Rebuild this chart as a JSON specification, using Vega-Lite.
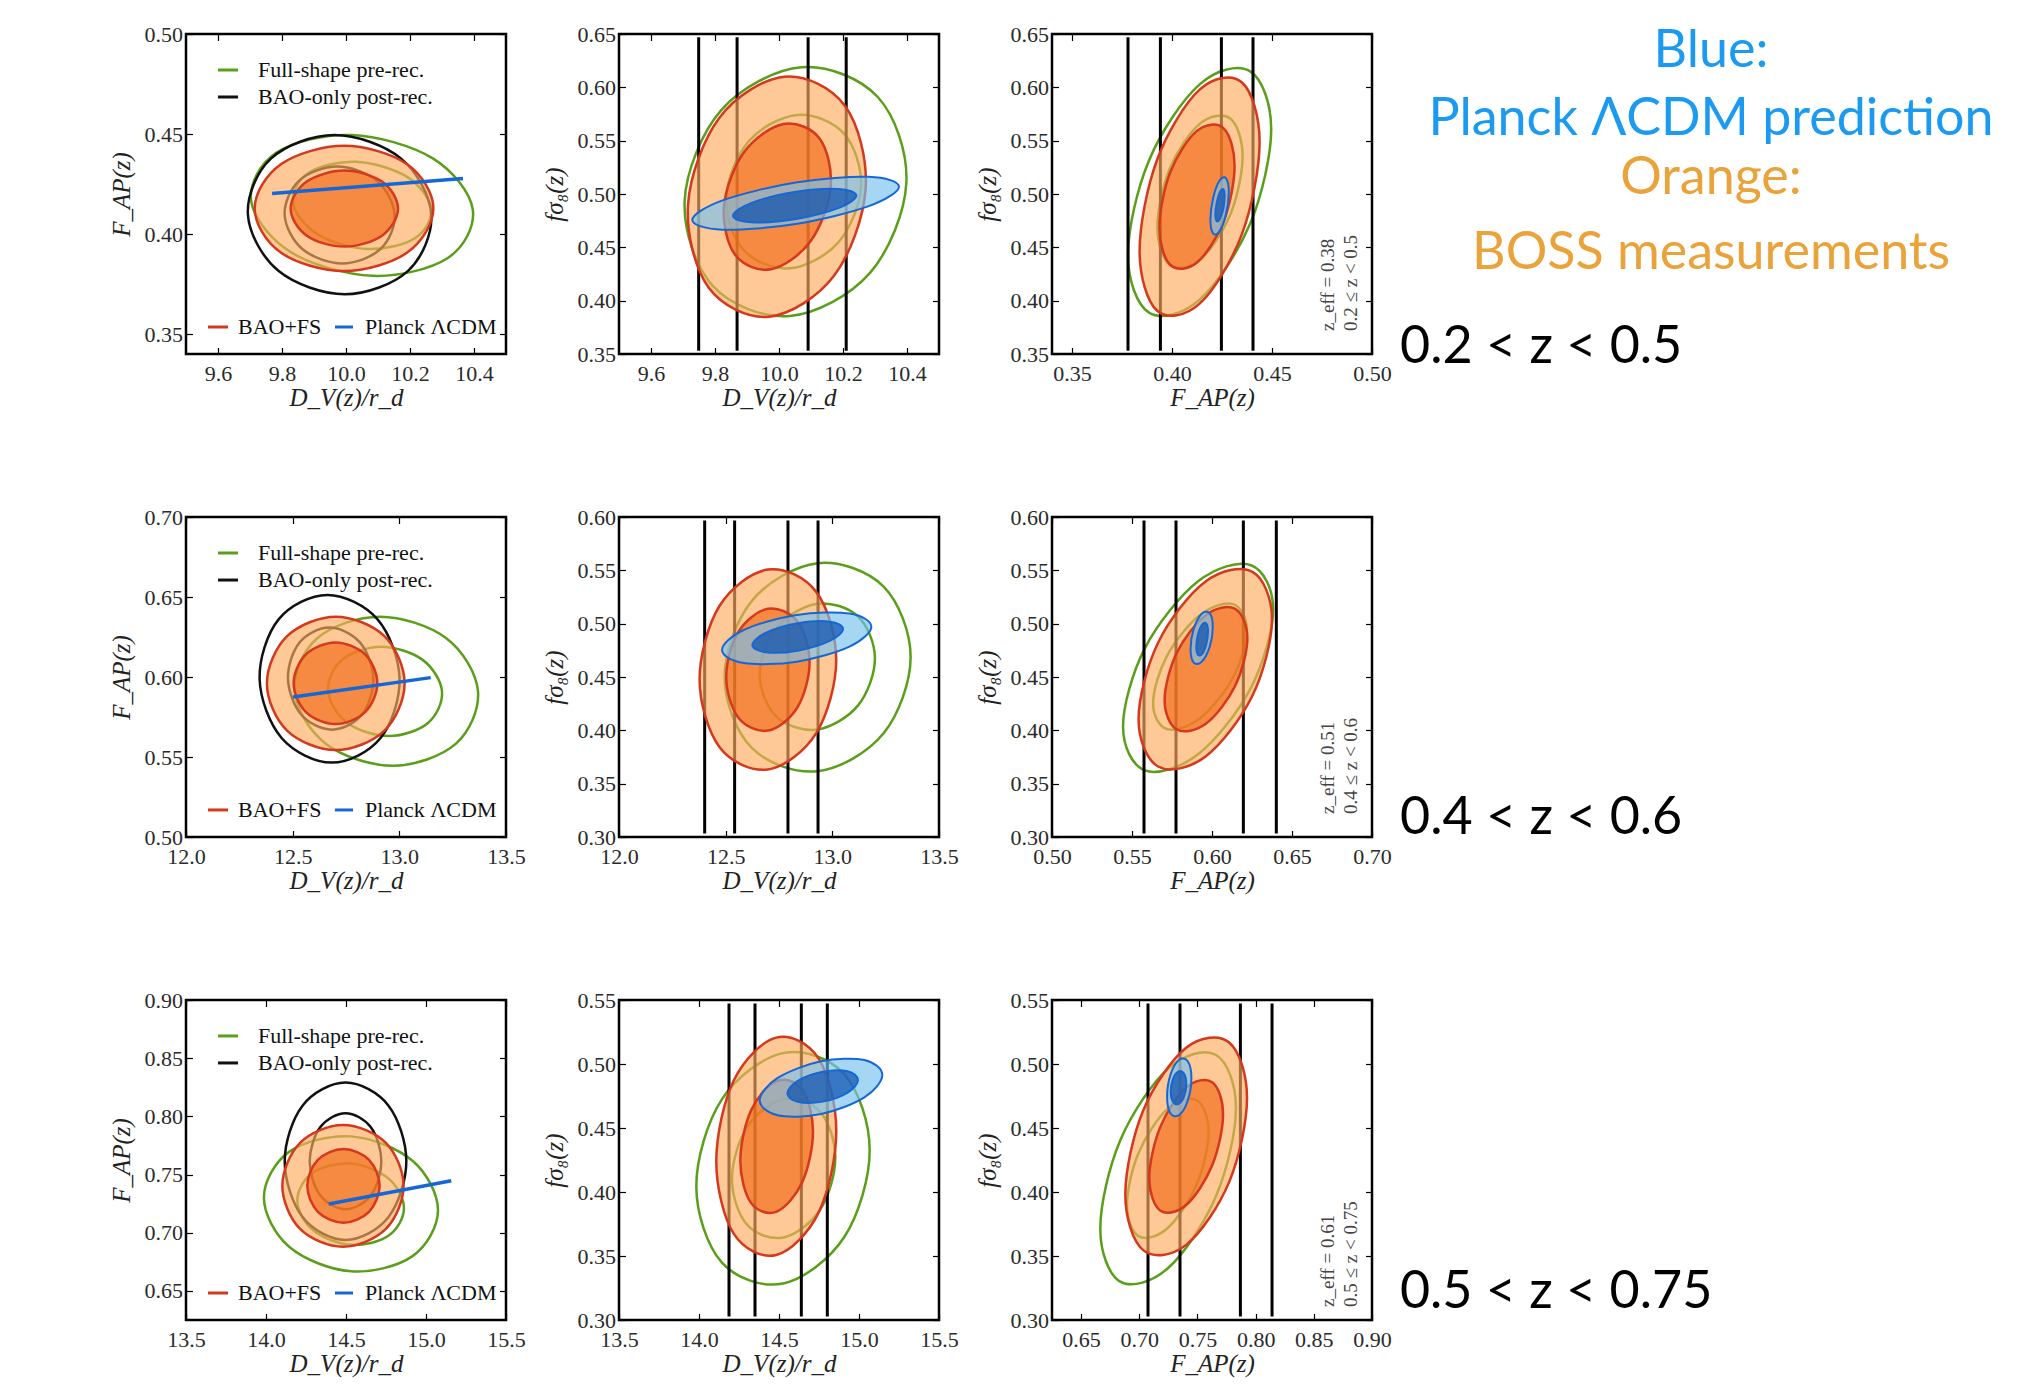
{
"$schema": "https://vega.github.io/schema/vega-lite/v6.json",
"background": "white",
"padding": {"left": 107, "top": 21, "right": 5, "bottom": 5},
"columns": 3,
"spacing": {"row": 163, "column": 113},
"bounds": "flush",
"config": {
  "view": {"stroke": "#000000", "strokeWidth": 2.5},
  "axis": {"domain": false, "grid": false, "ticks": true, "tickSize": -6.5, "tickColor": "#000000", "tickWidth": 1.2,
    "labelFont": "Liberation Serif", "labelFontSize": 22, "labelColor": "#2a2a2a",
    "labelFlush": false, "labelOverlap": false, "labelBound": false,
    "titleFont": "Liberation Serif", "titleFontSize": 25, "titleFontStyle": "italic", "titleFontWeight": "normal", "titleColor": "#222222"},
  "axisX": {"labelPadding": 16, "titlePadding": 1},
  "axisY": {"labelPadding": 10, "titlePadding": 10}
},
"datasets": {
"p11": [
{"k":"g","c":"g2","o":0,"x":10.396,"y":0.4123},{"k":"g","c":"g2","o":1,"x":10.2713,"y":0.4378},{"k":"g","c":"g2","o":2,"x":10.017,"y":0.4495},{"k":"g","c":"g2","o":3,"x":9.782,"y":0.4406},{"k":"g","c":"g2","o":4,"x":9.704,"y":0.4163},{"k":"g","c":"g2","o":5,"x":9.8287,"y":0.3908},{"k":"g","c":"g2","o":6,"x":10.083,"y":0.3791},{"k":"g","c":"g2","o":7,"x":10.318,"y":0.388},
{"k":"g","c":"g1","o":0,"x":10.2656,"y":0.413},{"k":"g","c":"g1","o":1,"x":10.1883,"y":0.4288},{"k":"g","c":"g1","o":2,"x":10.03,"y":0.4361},{"k":"g","c":"g1","o":3,"x":9.8834,"y":0.4306},{"k":"g","c":"g1","o":4,"x":9.8344,"y":0.4156},{"k":"g","c":"g1","o":5,"x":9.9117,"y":0.3998},{"k":"g","c":"g1","o":6,"x":10.07,"y":0.3925},{"k":"g","c":"g1","o":7,"x":10.2166,"y":0.398},
{"k":"k","c":"k2","o":0,"x":10.2665,"y":0.4097},{"k":"k","c":"k2","o":1,"x":10.1713,"y":0.4378},{"k":"k","c":"k2","o":2,"x":9.964,"y":0.4495},{"k":"k","c":"k2","o":3,"x":9.7661,"y":0.4378},{"k":"k","c":"k2","o":4,"x":9.6935,"y":0.4097},{"k":"k","c":"k2","o":5,"x":9.7887,"y":0.3816},{"k":"k","c":"k2","o":6,"x":9.996,"y":0.3699},{"k":"k","c":"k2","o":7,"x":10.1939,"y":0.3816},
{"k":"k","c":"k1","o":0,"x":10.1521,"y":0.4095},{"k":"k","c":"k1","o":1,"x":10.0961,"y":0.4266},{"k":"k","c":"k1","o":2,"x":9.9722,"y":0.4337},{"k":"k","c":"k1","o":3,"x":9.853,"y":0.4266},{"k":"k","c":"k1","o":4,"x":9.8083,"y":0.4095},{"k":"k","c":"k1","o":5,"x":9.8643,"y":0.3924},{"k":"k","c":"k1","o":6,"x":9.9882,"y":0.3853},{"k":"k","c":"k1","o":7,"x":10.1074,"y":0.3924},
{"k":"oL","c":"r2","o":0,"x":10.273,"y":0.4128},{"k":"oL","c":"r2","o":1,"x":10.1912,"y":0.4349},{"k":"oL","c":"r2","o":2,"x":9.9938,"y":0.4441},{"k":"oL","c":"r2","o":3,"x":9.7964,"y":0.4349},{"k":"oL","c":"r2","o":4,"x":9.7146,"y":0.4128},{"k":"oL","c":"r2","o":5,"x":9.7964,"y":0.3907},{"k":"oL","c":"r2","o":6,"x":9.9938,"y":0.3815},{"k":"oL","c":"r2","o":7,"x":10.1912,"y":0.3907},
{"k":"oD","c":"r1","o":0,"x":10.1625,"y":0.4127},{"k":"oD","c":"r1","o":1,"x":10.1134,"y":0.4261},{"k":"oD","c":"r1","o":2,"x":9.9948,"y":0.4317},{"k":"oD","c":"r1","o":3,"x":9.8762,"y":0.4261},{"k":"oD","c":"r1","o":4,"x":9.8271,"y":0.4127},{"k":"oD","c":"r1","o":5,"x":9.8762,"y":0.3993},{"k":"oD","c":"r1","o":6,"x":9.9948,"y":0.3937},{"k":"oD","c":"r1","o":7,"x":10.1134,"y":0.3993},
{"k":"bl","c":"b","o":0,"x":9.769,"y":0.4203},{"k":"bl","c":"b","o":1,"x":10.3656,"y":0.4277},
{"k":"lr","s":"Full-shape pre-rec.","x":9.6,"x2":9.6625,"y":0.482},{"k":"lr","s":"BAO-only post-rec.","x":9.6,"x2":9.6625,"y":0.4685},{"k":"lr","s":"BAO+FS","x":9.56875,"x2":9.63125,"y":0.3535},{"k":"lr","s":"Planck ΛCDM","x":9.9656,"x2":10.0219,"y":0.3535},
{"k":"lt","t":"Full-shape pre-rec.","x":9.725,"y":0.482},{"k":"lt","t":"BAO-only post-rec.","x":9.725,"y":0.4685},{"k":"lt","t":"BAO+FS","x":9.6625,"y":0.3535},{"k":"lt","t":"Planck ΛCDM","x":10.0594,"y":0.3535}
],
"p12": [
{"k":"g","c":"g2","o":0,"x":10.398,"y":0.5108},{"k":"g","c":"g2","o":1,"x":10.3094,"y":0.5907},{"k":"g","c":"g2","o":2,"x":10.0698,"y":0.6188},{"k":"g","c":"g2","o":3,"x":9.8195,"y":0.5786},{"k":"g","c":"g2","o":4,"x":9.7052,"y":0.4936},{"k":"g","c":"g2","o":5,"x":9.7938,"y":0.4137},{"k":"g","c":"g2","o":6,"x":10.0334,"y":0.3856},{"k":"g","c":"g2","o":7,"x":10.2837,"y":0.4258},
{"k":"g","c":"g1","o":0,"x":10.2562,"y":0.5072},{"k":"g","c":"g1","o":1,"x":10.2031,"y":0.5566},{"k":"g","c":"g1","o":2,"x":10.0578,"y":0.5741},{"k":"g","c":"g1","o":3,"x":9.9055,"y":0.5495},{"k":"g","c":"g1","o":4,"x":9.8354,"y":0.4972},{"k":"g","c":"g1","o":5,"x":9.8885,"y":0.4478},{"k":"g","c":"g1","o":6,"x":10.0338,"y":0.4303},{"k":"g","c":"g1","o":7,"x":10.1861,"y":0.4549},
{"k":"rule","x":9.749,"y":0.3531,"y2":0.6469},{"k":"rule","x":9.869,"y":0.3531,"y2":0.6469},{"k":"rule","x":10.091,"y":0.3531,"y2":0.6469},{"k":"rule","x":10.21,"y":0.3531,"y2":0.6469},
{"k":"oL","c":"r2","o":0,"x":10.2708,"y":0.5053},{"k":"oL","c":"r2","o":1,"x":10.2065,"y":0.5826},{"k":"oL","c":"r2","o":2,"x":10.0172,"y":0.61},{"k":"oL","c":"r2","o":3,"x":9.8139,"y":0.5715},{"k":"oL","c":"r2","o":4,"x":9.7156,"y":0.4897},{"k":"oL","c":"r2","o":5,"x":9.7799,"y":0.4124},{"k":"oL","c":"r2","o":6,"x":9.9692,"y":0.385},{"k":"oL","c":"r2","o":7,"x":10.1725,"y":0.4235},
{"k":"oD","c":"r1","o":0,"x":10.1615,"y":0.5065},{"k":"oD","c":"r1","o":1,"x":10.1268,"y":0.552},{"k":"oD","c":"r1","o":2,"x":10.0148,"y":0.5656},{"k":"oD","c":"r1","o":3,"x":9.8911,"y":0.5393},{"k":"oD","c":"r1","o":4,"x":9.8281,"y":0.4885},{"k":"oD","c":"r1","o":5,"x":9.8628,"y":0.443},{"k":"oD","c":"r1","o":6,"x":9.9748,"y":0.4294},{"k":"oD","c":"r1","o":7,"x":10.0985,"y":0.4557},
{"k":"bL","c":"b2","o":0,"x":10.3749,"y":0.5069},{"k":"bL","c":"b2","o":1,"x":10.2803,"y":0.5161},{"k":"bL","c":"b2","o":2,"x":10.052,"y":0.5107},{"k":"bL","c":"b2","o":3,"x":9.8237,"y":0.494},{"k":"bL","c":"b2","o":4,"x":9.7291,"y":0.4757},{"k":"bL","c":"b2","o":5,"x":9.8237,"y":0.4666},{"k":"bL","c":"b2","o":6,"x":10.052,"y":0.4719},{"k":"bL","c":"b2","o":7,"x":10.2803,"y":0.4886},
{"k":"bD","c":"b1","o":0,"x":10.2417,"y":0.4985},{"k":"bD","c":"b1","o":1,"x":10.1853,"y":0.5048},{"k":"bD","c":"b1","o":2,"x":10.049,"y":0.5019},{"k":"bD","c":"b1","o":3,"x":9.9127,"y":0.4915},{"k":"bD","c":"b1","o":4,"x":9.8563,"y":0.4797},{"k":"bD","c":"b1","o":5,"x":9.9127,"y":0.4734},{"k":"bD","c":"b1","o":6,"x":10.049,"y":0.4763},{"k":"bD","c":"b1","o":7,"x":10.1853,"y":0.4867}
],
"p13": [
{"k":"g","c":"g2","o":0,"x":0.4496,"y":0.5609},{"k":"g","c":"g2","o":1,"x":0.4391,"y":0.615},{"k":"g","c":"g2","o":2,"x":0.4138,"y":0.6028},{"k":"g","c":"g2","o":3,"x":0.3885,"y":0.5315},{"k":"g","c":"g2","o":4,"x":0.378,"y":0.4429},{"k":"g","c":"g2","o":5,"x":0.3885,"y":0.3888},{"k":"g","c":"g2","o":6,"x":0.4138,"y":0.401},{"k":"g","c":"g2","o":7,"x":0.4391,"y":0.4723},
{"k":"g","c":"g1","o":0,"x":0.4353,"y":0.5353},{"k":"g","c":"g1","o":1,"x":0.4291,"y":0.5707},{"k":"g","c":"g1","o":2,"x":0.414,"y":0.566},{"k":"g","c":"g1","o":3,"x":0.3989,"y":0.5239},{"k":"g","c":"g1","o":4,"x":0.3927,"y":0.4691},{"k":"g","c":"g1","o":5,"x":0.3989,"y":0.4337},{"k":"g","c":"g1","o":6,"x":0.414,"y":0.4384},{"k":"g","c":"g1","o":7,"x":0.4291,"y":0.4805},
{"k":"rule","x":0.378,"y":0.3531,"y2":0.6469},{"k":"rule","x":0.3942,"y":0.3531,"y2":0.6469},{"k":"rule","x":0.4247,"y":0.3531,"y2":0.6469},{"k":"rule","x":0.4405,"y":0.3531,"y2":0.6469},
{"k":"oL","c":"r2","o":0,"x":0.4438,"y":0.5485},{"k":"oL","c":"r2","o":1,"x":0.435,"y":0.6045},{"k":"oL","c":"r2","o":2,"x":0.4138,"y":0.5978},{"k":"oL","c":"r2","o":3,"x":0.3926,"y":0.5324},{"k":"oL","c":"r2","o":4,"x":0.3838,"y":0.4465},{"k":"oL","c":"r2","o":5,"x":0.3926,"y":0.3905},{"k":"oL","c":"r2","o":6,"x":0.4138,"y":0.3972},{"k":"oL","c":"r2","o":7,"x":0.435,"y":0.4626},
{"k":"oD","c":"r1","o":0,"x":0.4313,"y":0.5264},{"k":"oD","c":"r1","o":1,"x":0.4258,"y":0.5616},{"k":"oD","c":"r1","o":2,"x":0.4125,"y":0.5592},{"k":"oD","c":"r1","o":3,"x":0.3992,"y":0.5207},{"k":"oD","c":"r1","o":4,"x":0.3937,"y":0.4686},{"k":"oD","c":"r1","o":5,"x":0.3992,"y":0.4334},{"k":"oD","c":"r1","o":6,"x":0.4125,"y":0.4358},{"k":"oD","c":"r1","o":7,"x":0.4258,"y":0.4743},
{"k":"bL","c":"b2","o":0,"x":0.4284,"y":0.5016},{"k":"bL","c":"b2","o":1,"x":0.427,"y":0.5147},{"k":"bL","c":"b2","o":2,"x":0.4238,"y":0.5126},{"k":"bL","c":"b2","o":3,"x":0.4206,"y":0.4966},{"k":"bL","c":"b2","o":4,"x":0.4192,"y":0.476},{"k":"bL","c":"b2","o":5,"x":0.4206,"y":0.4629},{"k":"bL","c":"b2","o":6,"x":0.4238,"y":0.465},{"k":"bL","c":"b2","o":7,"x":0.427,"y":0.481},
{"k":"bD","c":"b1","o":0,"x":0.4263,"y":0.4982},{"k":"bD","c":"b1","o":1,"x":0.4257,"y":0.5045},{"k":"bD","c":"b1","o":2,"x":0.424,"y":0.5019},{"k":"bD","c":"b1","o":3,"x":0.4224,"y":0.4921},{"k":"bD","c":"b1","o":4,"x":0.4217,"y":0.4807},{"k":"bD","c":"b1","o":5,"x":0.4224,"y":0.4744},{"k":"bD","c":"b1","o":6,"x":0.424,"y":0.4769},{"k":"bD","c":"b1","o":7,"x":0.4257,"y":0.4867},
{"k":"rot","t":"z_eff = 0.38","x":0.478,"y":0.3716},{"k":"rot","t":"0.2 ≤ z < 0.5","x":0.4895,"y":0.3716},
{"k":"hb","t":"Blue:","x":0.6695,"y":0.6193},{"k":"hb","t":"Planck ΛCDM prediction","x":0.6695,"y":0.5553},
{"k":"ho","t":"Orange:","x":0.6695,"y":0.5001},{"k":"ho","t":"BOSS measurements","x":0.6695,"y":0.4299},
{"k":"row","t":"0.2 < z < 0.5","x":0.514,"y":0.3416}
],
"p21": [
{"k":"g","c":"g2","o":0,"x":13.3687,"y":0.5911},{"k":"g","c":"g2","o":1,"x":13.2216,"y":0.6241},{"k":"g","c":"g2","o":2,"x":12.909,"y":0.6377},{"k":"g","c":"g2","o":3,"x":12.6139,"y":0.6241},{"k":"g","c":"g2","o":4,"x":12.5093,"y":0.5911},{"k":"g","c":"g2","o":5,"x":12.6564,"y":0.5582},{"k":"g","c":"g2","o":6,"x":12.969,"y":0.5445},{"k":"g","c":"g2","o":7,"x":13.2641,"y":0.5582},
{"k":"g","c":"g1","o":0,"x":13.2,"y":0.591},{"k":"g","c":"g1","o":1,"x":13.1091,"y":0.6107},{"k":"g","c":"g1","o":2,"x":12.915,"y":0.6189},{"k":"g","c":"g1","o":3,"x":12.7315,"y":0.6107},{"k":"g","c":"g1","o":4,"x":12.666,"y":0.591},{"k":"g","c":"g1","o":5,"x":12.7569,"y":0.5713},{"k":"g","c":"g1","o":6,"x":12.951,"y":0.5631},{"k":"g","c":"g1","o":7,"x":13.1345,"y":0.5713},
{"k":"k","c":"k2","o":0,"x":13.001,"y":0.5989},{"k":"k","c":"k2","o":1,"x":12.8979,"y":0.636},{"k":"k","c":"k2","o":2,"x":12.663,"y":0.6513},{"k":"k","c":"k2","o":3,"x":12.434,"y":0.636},{"k":"k","c":"k2","o":4,"x":12.345,"y":0.5989},{"k":"k","c":"k2","o":5,"x":12.4481,"y":0.5619},{"k":"k","c":"k2","o":6,"x":12.683,"y":0.5465},{"k":"k","c":"k2","o":7,"x":12.912,"y":0.5619},
{"k":"k","c":"k1","o":0,"x":12.878,"y":0.599},{"k":"k","c":"k1","o":1,"x":12.8152,"y":0.6216},{"k":"k","c":"k1","o":2,"x":12.672,"y":0.6309},{"k":"k","c":"k1","o":3,"x":12.5323,"y":0.6216},{"k":"k","c":"k1","o":4,"x":12.478,"y":0.599},{"k":"k","c":"k1","o":5,"x":12.5408,"y":0.5764},{"k":"k","c":"k1","o":6,"x":12.684,"y":0.5671},{"k":"k","c":"k1","o":7,"x":12.8237,"y":0.5764},
{"k":"oL","c":"r2","o":0,"x":13.0247,"y":0.596},{"k":"oL","c":"r2","o":1,"x":12.9302,"y":0.6255},{"k":"oL","c":"r2","o":2,"x":12.702,"y":0.6377},{"k":"oL","c":"r2","o":3,"x":12.4738,"y":0.6255},{"k":"oL","c":"r2","o":4,"x":12.3793,"y":0.596},{"k":"oL","c":"r2","o":5,"x":12.4738,"y":0.5665},{"k":"oL","c":"r2","o":6,"x":12.702,"y":0.5543},{"k":"oL","c":"r2","o":7,"x":12.9302,"y":0.5665},
{"k":"oD","c":"r1","o":0,"x":12.8969,"y":0.5961},{"k":"oD","c":"r1","o":1,"x":12.8395,"y":0.6141},{"k":"oD","c":"r1","o":2,"x":12.7008,"y":0.6216},{"k":"oD","c":"r1","o":3,"x":12.5621,"y":0.6141},{"k":"oD","c":"r1","o":4,"x":12.5047,"y":0.5961},{"k":"oD","c":"r1","o":5,"x":12.5621,"y":0.5781},{"k":"oD","c":"r1","o":6,"x":12.7008,"y":0.5706},{"k":"oD","c":"r1","o":7,"x":12.8395,"y":0.5781},
{"k":"bl","c":"b","o":0,"x":12.5016,"y":0.5875},{"k":"bl","c":"b","o":1,"x":13.147,"y":0.5996},
{"k":"lr","s":"Full-shape pre-rec.","x":12.15,"x2":12.24375,"y":0.6775},{"k":"lr","s":"BAO-only post-rec.","x":12.15,"x2":12.24375,"y":0.6606},{"k":"lr","s":"BAO+FS","x":12.103,"x2":12.197,"y":0.5169},{"k":"lr","s":"Planck ΛCDM","x":12.698,"x2":12.783,"y":0.5169},
{"k":"lt","t":"Full-shape pre-rec.","x":12.3375,"y":0.6775},{"k":"lt","t":"BAO-only post-rec.","x":12.3375,"y":0.6606},{"k":"lt","t":"BAO+FS","x":12.244,"y":0.5169},{"k":"lt","t":"Planck ΛCDM","x":12.839,"y":0.5169}
],
"p22": [
{"k":"g","c":"g2","o":0,"x":13.367,"y":0.4687},{"k":"g","c":"g2","o":1,"x":13.2393,"y":0.5349},{"k":"g","c":"g2","o":2,"x":12.931,"y":0.5567},{"k":"g","c":"g2","o":3,"x":12.6227,"y":0.5214},{"k":"g","c":"g2","o":4,"x":12.495,"y":0.4497},{"k":"g","c":"g2","o":5,"x":12.6227,"y":0.3835},{"k":"g","c":"g2","o":6,"x":12.931,"y":0.3617},{"k":"g","c":"g2","o":7,"x":13.2393,"y":0.397},
{"k":"g","c":"g1","o":0,"x":13.1997,"y":0.4673},{"k":"g","c":"g1","o":1,"x":13.1206,"y":0.5067},{"k":"g","c":"g1","o":2,"x":12.9297,"y":0.5186},{"k":"g","c":"g1","o":3,"x":12.7388,"y":0.496},{"k":"g","c":"g1","o":4,"x":12.6597,"y":0.4521},{"k":"g","c":"g1","o":5,"x":12.7388,"y":0.4127},{"k":"g","c":"g1","o":6,"x":12.9297,"y":0.4008},{"k":"g","c":"g1","o":7,"x":13.1206,"y":0.4234},
{"k":"rule","x":12.4016,"y":0.3033,"y2":0.5967},{"k":"rule","x":12.542,"y":0.3033,"y2":0.5967},{"k":"rule","x":12.792,"y":0.3033,"y2":0.5967},{"k":"rule","x":12.933,"y":0.3033,"y2":0.5967},
{"k":"oL","c":"r2","o":0,"x":13.0183,"y":0.4662},{"k":"oL","c":"r2","o":1,"x":12.9245,"y":0.5298},{"k":"oL","c":"r2","o":2,"x":12.698,"y":0.5507},{"k":"oL","c":"r2","o":3,"x":12.4715,"y":0.5168},{"k":"oL","c":"r2","o":4,"x":12.3777,"y":0.4478},{"k":"oL","c":"r2","o":5,"x":12.4715,"y":0.3842},{"k":"oL","c":"r2","o":6,"x":12.698,"y":0.3633},{"k":"oL","c":"r2","o":7,"x":12.9245,"y":0.3973},
{"k":"oD","c":"r1","o":0,"x":12.8933,"y":0.4638},{"k":"oD","c":"r1","o":1,"x":12.8361,"y":0.5022},{"k":"oD","c":"r1","o":2,"x":12.698,"y":0.514},{"k":"oD","c":"r1","o":3,"x":12.5599,"y":0.4924},{"k":"oD","c":"r1","o":4,"x":12.5027,"y":0.45},{"k":"oD","c":"r1","o":5,"x":12.5599,"y":0.4117},{"k":"oD","c":"r1","o":6,"x":12.698,"y":0.3998},{"k":"oD","c":"r1","o":7,"x":12.8361,"y":0.4214},
{"k":"bL","c":"b2","o":0,"x":13.183,"y":0.4972},{"k":"bL","c":"b2","o":1,"x":13.0805,"y":0.5095},{"k":"bL","c":"b2","o":2,"x":12.833,"y":0.5082},{"k":"bL","c":"b2","o":3,"x":12.5855,"y":0.4941},{"k":"bL","c":"b2","o":4,"x":12.483,"y":0.4754},{"k":"bL","c":"b2","o":5,"x":12.5855,"y":0.4631},{"k":"bL","c":"b2","o":6,"x":12.833,"y":0.4644},{"k":"bL","c":"b2","o":7,"x":13.0805,"y":0.4785},
{"k":"bD","c":"b1","o":0,"x":13.05,"y":0.495},{"k":"bD","c":"b1","o":1,"x":12.9878,"y":0.5019},{"k":"bD","c":"b1","o":2,"x":12.8375,"y":0.5003},{"k":"bD","c":"b1","o":3,"x":12.6872,"y":0.4913},{"k":"bD","c":"b1","o":4,"x":12.625,"y":0.48},{"k":"bD","c":"b1","o":5,"x":12.6872,"y":0.4732},{"k":"bD","c":"b1","o":6,"x":12.8375,"y":0.4747},{"k":"bD","c":"b1","o":7,"x":12.9878,"y":0.4838}
],
"p23": [
{"k":"g","c":"g2","o":0,"x":0.6382,"y":0.5136},{"k":"g","c":"g2","o":1,"x":0.6244,"y":0.5548},{"k":"g","c":"g2","o":2,"x":0.5913,"y":0.5397},{"k":"g","c":"g2","o":3,"x":0.5581,"y":0.4771},{"k":"g","c":"g2","o":4,"x":0.5444,"y":0.4036},{"k":"g","c":"g2","o":5,"x":0.5581,"y":0.3624},{"k":"g","c":"g2","o":6,"x":0.5913,"y":0.3775},{"k":"g","c":"g2","o":7,"x":0.6244,"y":0.4401},
{"k":"g","c":"g1","o":0,"x":0.6218,"y":0.4941},{"k":"g","c":"g1","o":1,"x":0.6132,"y":0.5183},{"k":"g","c":"g1","o":2,"x":0.5925,"y":0.5081},{"k":"g","c":"g1","o":3,"x":0.5718,"y":0.4696},{"k":"g","c":"g1","o":4,"x":0.5632,"y":0.4253},{"k":"g","c":"g1","o":5,"x":0.5718,"y":0.4012},{"k":"g","c":"g1","o":6,"x":0.5925,"y":0.4113},{"k":"g","c":"g1","o":7,"x":0.6132,"y":0.4498},
{"k":"rule","x":0.5575,"y":0.3033,"y2":0.5967},{"k":"rule","x":0.5775,"y":0.3033,"y2":0.5967},{"k":"rule","x":0.6196,"y":0.3033,"y2":0.5967},{"k":"rule","x":0.6402,"y":0.3033,"y2":0.5967},
{"k":"oL","c":"r2","o":0,"x":0.6375,"y":0.5043},{"k":"oL","c":"r2","o":1,"x":0.6253,"y":0.5485},{"k":"oL","c":"r2","o":2,"x":0.5958,"y":0.5393},{"k":"oL","c":"r2","o":3,"x":0.5663,"y":0.4821},{"k":"oL","c":"r2","o":4,"x":0.5541,"y":0.4103},{"k":"oL","c":"r2","o":5,"x":0.5663,"y":0.3661},{"k":"oL","c":"r2","o":6,"x":0.5958,"y":0.3753},{"k":"oL","c":"r2","o":7,"x":0.6253,"y":0.4326},
{"k":"oD","c":"r1","o":0,"x":0.6221,"y":0.4863},{"k":"oD","c":"r1","o":1,"x":0.6145,"y":0.5138},{"k":"oD","c":"r1","o":2,"x":0.5963,"y":0.5082},{"k":"oD","c":"r1","o":3,"x":0.578,"y":0.4728},{"k":"oD","c":"r1","o":4,"x":0.5704,"y":0.4283},{"k":"oD","c":"r1","o":5,"x":0.578,"y":0.4008},{"k":"oD","c":"r1","o":6,"x":0.5963,"y":0.4064},{"k":"oD","c":"r1","o":7,"x":0.6145,"y":0.4418},
{"k":"bL","c":"b2","o":0,"x":0.6005,"y":0.4969},{"k":"bL","c":"b2","o":1,"x":0.5985,"y":0.5098},{"k":"bL","c":"b2","o":2,"x":0.5935,"y":0.509},{"k":"bL","c":"b2","o":3,"x":0.5886,"y":0.4952},{"k":"bL","c":"b2","o":4,"x":0.5866,"y":0.4763},{"k":"bL","c":"b2","o":5,"x":0.5886,"y":0.4634},{"k":"bL","c":"b2","o":6,"x":0.5935,"y":0.4642},{"k":"bL","c":"b2","o":7,"x":0.5985,"y":0.478},
{"k":"bD","c":"b1","o":0,"x":0.5975,"y":0.4926},{"k":"bD","c":"b1","o":1,"x":0.5964,"y":0.5002},{"k":"bD","c":"b1","o":2,"x":0.5939,"y":0.4993},{"k":"bD","c":"b1","o":3,"x":0.5913,"y":0.4902},{"k":"bD","c":"b1","o":4,"x":0.5902,"y":0.4784},{"k":"bD","c":"b1","o":5,"x":0.5913,"y":0.4708},{"k":"bD","c":"b1","o":6,"x":0.5939,"y":0.4717},{"k":"bD","c":"b1","o":7,"x":0.5964,"y":0.4808},
{"k":"rot","t":"z_eff = 0.51","x":0.6725,"y":0.3216},{"k":"rot","t":"0.4 ≤ z < 0.6","x":0.6869,"y":0.3216},
{"k":"row","t":"0.4 < z < 0.6","x":0.7175,"y":0.3028}
],
"p31": [
{"k":"g","c":"g2","o":0,"x":15.075,"y":0.7193},{"k":"g","c":"g2","o":1,"x":14.9157,"y":0.7619},{"k":"g","c":"g2","o":2,"x":14.531,"y":0.7828},{"k":"g","c":"g2","o":3,"x":14.1463,"y":0.7697},{"k":"g","c":"g2","o":4,"x":13.987,"y":0.7303},{"k":"g","c":"g2","o":5,"x":14.1463,"y":0.6877},{"k":"g","c":"g2","o":6,"x":14.531,"y":0.6668},{"k":"g","c":"g2","o":7,"x":14.9157,"y":0.6799},
{"k":"g","c":"g1","o":0,"x":14.8623,"y":0.721},{"k":"g","c":"g1","o":1,"x":14.7647,"y":0.7467},{"k":"g","c":"g1","o":2,"x":14.529,"y":0.7594},{"k":"g","c":"g1","o":3,"x":14.2933,"y":0.7517},{"k":"g","c":"g1","o":4,"x":14.1957,"y":0.728},{"k":"g","c":"g1","o":5,"x":14.2933,"y":0.7023},{"k":"g","c":"g1","o":6,"x":14.529,"y":0.6896},{"k":"g","c":"g1","o":7,"x":14.7647,"y":0.6974},
{"k":"k","c":"k2","o":0,"x":14.877,"y":0.7614},{"k":"k","c":"k2","o":1,"x":14.7657,"y":0.8092},{"k":"k","c":"k2","o":2,"x":14.497,"y":0.829},{"k":"k","c":"k2","o":3,"x":14.2283,"y":0.8092},{"k":"k","c":"k2","o":4,"x":14.117,"y":0.7614},{"k":"k","c":"k2","o":5,"x":14.2283,"y":0.7136},{"k":"k","c":"k2","o":6,"x":14.497,"y":0.6938},{"k":"k","c":"k2","o":7,"x":14.7657,"y":0.7136},
{"k":"k","c":"k1","o":0,"x":14.721,"y":0.7614},{"k":"k","c":"k1","o":1,"x":14.6554,"y":0.7906},{"k":"k","c":"k1","o":2,"x":14.497,"y":0.8027},{"k":"k","c":"k1","o":3,"x":14.3386,"y":0.7906},{"k":"k","c":"k1","o":4,"x":14.273,"y":0.7614},{"k":"k","c":"k1","o":5,"x":14.3386,"y":0.7322},{"k":"k","c":"k1","o":6,"x":14.497,"y":0.7202},{"k":"k","c":"k1","o":7,"x":14.6554,"y":0.7322},
{"k":"oL","c":"r2","o":0,"x":14.86,"y":0.7403},{"k":"oL","c":"r2","o":1,"x":14.749,"y":0.7773},{"k":"oL","c":"r2","o":2,"x":14.481,"y":0.7926},{"k":"oL","c":"r2","o":3,"x":14.213,"y":0.7773},{"k":"oL","c":"r2","o":4,"x":14.102,"y":0.7403},{"k":"oL","c":"r2","o":5,"x":14.213,"y":0.7033},{"k":"oL","c":"r2","o":6,"x":14.481,"y":0.688},{"k":"oL","c":"r2","o":7,"x":14.749,"y":0.7033},
{"k":"oD","c":"r1","o":0,"x":14.71,"y":0.7403},{"k":"oD","c":"r1","o":1,"x":14.6438,"y":0.7627},{"k":"oD","c":"r1","o":2,"x":14.484,"y":0.772},{"k":"oD","c":"r1","o":3,"x":14.3242,"y":0.7627},{"k":"oD","c":"r1","o":4,"x":14.258,"y":0.7403},{"k":"oD","c":"r1","o":5,"x":14.3242,"y":0.7179},{"k":"oD","c":"r1","o":6,"x":14.484,"y":0.7086},{"k":"oD","c":"r1","o":7,"x":14.6438,"y":0.7179},
{"k":"bl","c":"b","o":0,"x":14.392,"y":0.7247},{"k":"bl","c":"b","o":1,"x":15.158,"y":0.7447},
{"k":"lr","s":"Full-shape pre-rec.","x":13.7,"x2":13.825,"y":0.8691},{"k":"lr","s":"BAO-only post-rec.","x":13.7,"x2":13.825,"y":0.8459},{"k":"lr","s":"BAO+FS","x":13.6375,"x2":13.7625,"y":0.6482},{"k":"lr","s":"Planck ΛCDM","x":14.4313,"x2":14.5438,"y":0.6482},
{"k":"lt","t":"Full-shape pre-rec.","x":13.95,"y":0.8691},{"k":"lt","t":"BAO-only post-rec.","x":13.95,"y":0.8459},{"k":"lt","t":"BAO+FS","x":13.825,"y":0.6482},{"k":"lt","t":"Planck ΛCDM","x":14.6188,"y":0.6482}
],
"p32": [
{"k":"g","c":"g2","o":0,"x":15.0667,"y":0.4325},{"k":"g","c":"g2","o":1,"x":14.908,"y":0.492},{"k":"g","c":"g2","o":2,"x":14.525,"y":0.5085},{"k":"g","c":"g2","o":3,"x":14.142,"y":0.4722},{"k":"g","c":"g2","o":4,"x":13.9833,"y":0.4045},{"k":"g","c":"g2","o":5,"x":14.142,"y":0.345},{"k":"g","c":"g2","o":6,"x":14.525,"y":0.3285},{"k":"g","c":"g2","o":7,"x":14.908,"y":0.3648},
{"k":"g","c":"g1","o":0,"x":14.852,"y":0.4269},{"k":"g","c":"g1","o":1,"x":14.7574,"y":0.4626},{"k":"g","c":"g1","o":2,"x":14.529,"y":0.4725},{"k":"g","c":"g1","o":3,"x":14.3006,"y":0.4507},{"k":"g","c":"g1","o":4,"x":14.206,"y":0.4101},{"k":"g","c":"g1","o":5,"x":14.3006,"y":0.3744},{"k":"g","c":"g1","o":6,"x":14.529,"y":0.3645},{"k":"g","c":"g1","o":7,"x":14.7574,"y":0.3863},
{"k":"rule","x":14.1875,"y":0.3027,"y2":0.5473},{"k":"rule","x":14.35,"y":0.3027,"y2":0.5473},{"k":"rule","x":14.6396,"y":0.3027,"y2":0.5473},{"k":"rule","x":14.802,"y":0.3027,"y2":0.5473},
{"k":"oL","c":"r2","o":0,"x":14.858,"y":0.4476},{"k":"oL","c":"r2","o":1,"x":14.7482,"y":0.5042},{"k":"oL","c":"r2","o":2,"x":14.483,"y":0.5206},{"k":"oL","c":"r2","o":3,"x":14.2178,"y":0.4873},{"k":"oL","c":"r2","o":4,"x":14.108,"y":0.4238},{"k":"oL","c":"r2","o":5,"x":14.2178,"y":0.3673},{"k":"oL","c":"r2","o":6,"x":14.483,"y":0.3508},{"k":"oL","c":"r2","o":7,"x":14.7482,"y":0.3841},
{"k":"oD","c":"r1","o":0,"x":14.7124,"y":0.4472},{"k":"oD","c":"r1","o":1,"x":14.6459,"y":0.4799},{"k":"oD","c":"r1","o":2,"x":14.4854,"y":0.4867},{"k":"oD","c":"r1","o":3,"x":14.3249,"y":0.4636},{"k":"oD","c":"r1","o":4,"x":14.2584,"y":0.4242},{"k":"oD","c":"r1","o":5,"x":14.3249,"y":0.3915},{"k":"oD","c":"r1","o":6,"x":14.4854,"y":0.3847},{"k":"oD","c":"r1","o":7,"x":14.6459,"y":0.4078},
{"k":"bL","c":"b2","o":0,"x":15.1458,"y":0.4914},{"k":"bL","c":"b2","o":1,"x":15.0335,"y":0.5031},{"k":"bL","c":"b2","o":2,"x":14.7625,"y":0.5021},{"k":"bL","c":"b2","o":3,"x":14.4915,"y":0.4891},{"k":"bL","c":"b2","o":4,"x":14.3792,"y":0.4716},{"k":"bL","c":"b2","o":5,"x":14.4915,"y":0.4599},{"k":"bL","c":"b2","o":6,"x":14.7625,"y":0.4609},{"k":"bL","c":"b2","o":7,"x":15.0335,"y":0.4739},
{"k":"bD","c":"b1","o":0,"x":14.9938,"y":0.4875},{"k":"bD","c":"b1","o":1,"x":14.9291,"y":0.4943},{"k":"bD","c":"b1","o":2,"x":14.773,"y":0.494},{"k":"bD","c":"b1","o":3,"x":14.6169,"y":0.4869},{"k":"bD","c":"b1","o":4,"x":14.5522,"y":0.4771},{"k":"bD","c":"b1","o":5,"x":14.6169,"y":0.4704},{"k":"bD","c":"b1","o":6,"x":14.773,"y":0.4706},{"k":"bD","c":"b1","o":7,"x":14.9291,"y":0.4777}
],
"p33": [
{"k":"g","c":"g2","o":0,"x":0.7831,"y":0.4657},{"k":"g","c":"g2","o":1,"x":0.766,"y":0.507},{"k":"g","c":"g2","o":2,"x":0.7248,"y":0.4964},{"k":"g","c":"g2","o":3,"x":0.6836,"y":0.4402},{"k":"g","c":"g2","o":4,"x":0.6665,"y":0.3713},{"k":"g","c":"g2","o":5,"x":0.6836,"y":0.33},{"k":"g","c":"g2","o":6,"x":0.7248,"y":0.3406},{"k":"g","c":"g2","o":7,"x":0.766,"y":0.3968},
{"k":"g","c":"g1","o":0,"x":0.7596,"y":0.4471},{"k":"g","c":"g1","o":1,"x":0.7493,"y":0.4717},{"k":"g","c":"g1","o":2,"x":0.7245,"y":0.4651},{"k":"g","c":"g1","o":3,"x":0.6997,"y":0.4312},{"k":"g","c":"g1","o":4,"x":0.6894,"y":0.3899},{"k":"g","c":"g1","o":5,"x":0.6997,"y":0.3653},{"k":"g","c":"g1","o":6,"x":0.7245,"y":0.3719},{"k":"g","c":"g1","o":7,"x":0.7493,"y":0.4058},
{"k":"rule","x":0.7075,"y":0.3027,"y2":0.5473},{"k":"rule","x":0.735,"y":0.3027,"y2":0.5473},{"k":"rule","x":0.7869,"y":0.3027,"y2":0.5473},{"k":"rule","x":0.8141,"y":0.3027,"y2":0.5473},
{"k":"oL","c":"r2","o":0,"x":0.7926,"y":0.4734},{"k":"oL","c":"r2","o":1,"x":0.7773,"y":0.5168},{"k":"oL","c":"r2","o":2,"x":0.7403,"y":0.5127},{"k":"oL","c":"r2","o":3,"x":0.7033,"y":0.4635},{"k":"oL","c":"r2","o":4,"x":0.688,"y":0.398},{"k":"oL","c":"r2","o":5,"x":0.7033,"y":0.3546},{"k":"oL","c":"r2","o":6,"x":0.7403,"y":0.3587},{"k":"oL","c":"r2","o":7,"x":0.7773,"y":0.4079},
{"k":"oD","c":"r1","o":0,"x":0.772,"y":0.4607},{"k":"oD","c":"r1","o":1,"x":0.7627,"y":0.4858},{"k":"oD","c":"r1","o":2,"x":0.7403,"y":0.4816},{"k":"oD","c":"r1","o":3,"x":0.7179,"y":0.4505},{"k":"oD","c":"r1","o":4,"x":0.7086,"y":0.4107},{"k":"oD","c":"r1","o":5,"x":0.7179,"y":0.3856},{"k":"oD","c":"r1","o":6,"x":0.7403,"y":0.3898},{"k":"oD","c":"r1","o":7,"x":0.7627,"y":0.4209},
{"k":"bL","c":"b2","o":0,"x":0.7448,"y":0.4889},{"k":"bL","c":"b2","o":1,"x":0.7417,"y":0.5021},{"k":"bL","c":"b2","o":2,"x":0.7343,"y":0.5033},{"k":"bL","c":"b2","o":3,"x":0.7269,"y":0.4919},{"k":"bL","c":"b2","o":4,"x":0.7239,"y":0.4745},{"k":"bL","c":"b2","o":5,"x":0.7269,"y":0.4613},{"k":"bL","c":"b2","o":6,"x":0.7343,"y":0.4601},{"k":"bL","c":"b2","o":7,"x":0.7417,"y":0.4715},
{"k":"bD","c":"b1","o":0,"x":0.7404,"y":0.4844},{"k":"bD","c":"b1","o":1,"x":0.7384,"y":0.4925},{"k":"bD","c":"b1","o":2,"x":0.7337,"y":0.4942},{"k":"bD","c":"b1","o":3,"x":0.729,"y":0.4884},{"k":"bD","c":"b1","o":4,"x":0.727,"y":0.4786},{"k":"bD","c":"b1","o":5,"x":0.729,"y":0.4705},{"k":"bD","c":"b1","o":6,"x":0.7337,"y":0.4688},{"k":"bD","c":"b1","o":7,"x":0.7384,"y":0.4746},
{"k":"rot","t":"z_eff = 0.61","x":0.8622,"y":0.3102},{"k":"rot","t":"0.5 ≤ z < 0.75","x":0.882,"y":0.3102},
{"k":"row","t":"0.5 < z < 0.75","x":0.924,"y":0.3094}
]
},
"concat": [
{
 "width": 320, "height": 320, "data": {"name": "p11"},
 "encoding": {"x": {"field": "x", "type": "quantitative", "scale": {"domain": [9.5, 10.5], "nice": false, "zero": false}, "axis": null},
              "y": {"field": "y", "type": "quantitative", "scale": {"domain": [0.34, 0.5], "nice": false, "zero": false}, "axis": null}},
 "layer": [
  {"transform": [{"filter": "datum.k=='g'"}], "mark": {"type": "line", "interpolate": "cardinal-closed", "stroke": "#5a9e1a", "strokeWidth": 2.5},
   "encoding": {"x": {"field": "x", "type": "quantitative", "scale": {"domain": [9.5, 10.5], "nice": false, "zero": false}, "axis": {"orient": "bottom", "values": [9.6, 9.8, 10, 10.2, 10.4], "format": ".1f", "title": "D_V(z)/r_d"}},
                "y": {"field": "y", "type": "quantitative", "scale": {"domain": [0.34, 0.5], "nice": false, "zero": false}, "axis": {"orient": "left", "values": [0.35, 0.4, 0.45, 0.5], "format": ".2f", "title": "F_AP(z)"}},
                "detail": {"field": "c"}, "order": {"field": "o", "type": "quantitative"}}},
  {"transform": [{"filter": "datum.k=='k'"}], "mark": {"type": "line", "interpolate": "cardinal-closed", "stroke": "#111111", "strokeWidth": 2.5},
   "encoding": {"detail": {"field": "c"}, "order": {"field": "o", "type": "quantitative"}}},
  {"transform": [{"filter": "datum.k=='oL'"}], "mark": {"type": "line", "interpolate": "cardinal-closed", "fill": "#fdac60", "fillOpacity": 0.65, "stroke": "#d5381c", "strokeWidth": 2.5},
   "encoding": {"x": {"field": "x", "type": "quantitative", "scale": {"domain": [9.5, 10.5], "nice": false, "zero": false}, "axis": {"orient": "top", "values": [9.6, 9.8, 10, 10.2, 10.4], "labels": false, "title": null}},
                "y": {"field": "y", "type": "quantitative", "scale": {"domain": [0.34, 0.5], "nice": false, "zero": false}, "axis": {"orient": "right", "values": [0.35, 0.4, 0.45, 0.5], "labels": false, "title": null}},
                "detail": {"field": "c"}, "order": {"field": "o", "type": "quantitative"}}},
  {"transform": [{"filter": "datum.k=='oD'"}], "mark": {"type": "line", "interpolate": "cardinal-closed", "fill": "#f26814", "fillOpacity": 0.65, "stroke": "#d5381c", "strokeWidth": 2.5},
   "encoding": {"detail": {"field": "c"}, "order": {"field": "o", "type": "quantitative"}}},
  {"transform": [{"filter": "datum.k=='bl'"}], "mark": {"type": "line", "stroke": "#1667d6", "strokeWidth": 3.5},
   "encoding": {"order": {"field": "o", "type": "quantitative"}}},
  {"transform": [{"filter": "datum.k=='lr'"}], "mark": {"type": "rule", "strokeWidth": 3},
   "encoding": {"x2": {"field": "x2"}, "color": {"field": "s", "type": "nominal", "scale": {"domain": ["Full-shape pre-rec.", "BAO-only post-rec.", "BAO+FS", "Planck ΛCDM"], "range": ["#5a9e1a", "#111111", "#d5381c", "#1667d6"]}, "legend": null}}},
  {"transform": [{"filter": "datum.k=='lt'"}], "mark": {"type": "text", "font": "Liberation Serif", "fontSize": 22, "align": "left", "baseline": "middle", "color": "#111111"},
   "encoding": {"text": {"field": "t"}}}
 ]
},
{
 "width": 320, "height": 320, "data": {"name": "p12"},
 "encoding": {"x": {"field": "x", "type": "quantitative", "scale": {"domain": [9.5, 10.5], "nice": false, "zero": false}, "axis": null},
              "y": {"field": "y", "type": "quantitative", "scale": {"domain": [0.35, 0.65], "nice": false, "zero": false}, "axis": null}},
 "layer": [
  {"transform": [{"filter": "datum.k=='g'"}], "mark": {"type": "line", "interpolate": "cardinal-closed", "stroke": "#5a9e1a", "strokeWidth": 2.5},
   "encoding": {"x": {"field": "x", "type": "quantitative", "scale": {"domain": [9.5, 10.5], "nice": false, "zero": false}, "axis": {"orient": "bottom", "values": [9.6, 9.8, 10, 10.2, 10.4], "format": ".1f", "title": "D_V(z)/r_d"}},
                "y": {"field": "y", "type": "quantitative", "scale": {"domain": [0.35, 0.65], "nice": false, "zero": false}, "axis": {"orient": "left", "values": [0.35, 0.4, 0.45, 0.5, 0.55, 0.6, 0.65], "format": ".2f", "title": "fσ₈(z)"}},
                "detail": {"field": "c"}, "order": {"field": "o", "type": "quantitative"}}},
  {"transform": [{"filter": "datum.k=='rule'"}], "mark": {"type": "rule", "stroke": "#000000", "strokeWidth": 3},
   "encoding": {"y2": {"field": "y2"}}},
  {"transform": [{"filter": "datum.k=='oL'"}], "mark": {"type": "line", "interpolate": "cardinal-closed", "fill": "#fdac60", "fillOpacity": 0.65, "stroke": "#d5381c", "strokeWidth": 2.5},
   "encoding": {"x": {"field": "x", "type": "quantitative", "scale": {"domain": [9.5, 10.5], "nice": false, "zero": false}, "axis": {"orient": "top", "values": [9.6, 9.8, 10, 10.2, 10.4], "labels": false, "title": null}},
                "y": {"field": "y", "type": "quantitative", "scale": {"domain": [0.35, 0.65], "nice": false, "zero": false}, "axis": {"orient": "right", "values": [0.35, 0.4, 0.45, 0.5, 0.55, 0.6, 0.65], "labels": false, "title": null}},
                "detail": {"field": "c"}, "order": {"field": "o", "type": "quantitative"}}},
  {"transform": [{"filter": "datum.k=='oD'"}], "mark": {"type": "line", "interpolate": "cardinal-closed", "fill": "#f26814", "fillOpacity": 0.65, "stroke": "#d5381c", "strokeWidth": 2.5},
   "encoding": {"detail": {"field": "c"}, "order": {"field": "o", "type": "quantitative"}}},
  {"transform": [{"filter": "datum.k=='bL'"}], "mark": {"type": "line", "interpolate": "cardinal-closed", "fill": "#75c2f0", "fillOpacity": 0.65, "stroke": "#1667d6", "strokeWidth": 2},
   "encoding": {"detail": {"field": "c"}, "order": {"field": "o", "type": "quantitative"}}},
  {"transform": [{"filter": "datum.k=='bD'"}], "mark": {"type": "line", "interpolate": "cardinal-closed", "fill": "#084fae", "fillOpacity": 0.7, "stroke": "#1667d6", "strokeWidth": 2},
   "encoding": {"detail": {"field": "c"}, "order": {"field": "o", "type": "quantitative"}}}
 ]
},
{
 "width": 320, "height": 320, "data": {"name": "p13"},
 "encoding": {"x": {"field": "x", "type": "quantitative", "scale": {"domain": [0.34, 0.5], "nice": false, "zero": false}, "axis": null},
              "y": {"field": "y", "type": "quantitative", "scale": {"domain": [0.35, 0.65], "nice": false, "zero": false}, "axis": null}},
 "layer": [
  {"transform": [{"filter": "datum.k=='g'"}], "mark": {"type": "line", "interpolate": "cardinal-closed", "stroke": "#5a9e1a", "strokeWidth": 2.5},
   "encoding": {"x": {"field": "x", "type": "quantitative", "scale": {"domain": [0.34, 0.5], "nice": false, "zero": false}, "axis": {"orient": "bottom", "values": [0.35, 0.4, 0.45, 0.5], "format": ".2f", "title": "F_AP(z)"}},
                "y": {"field": "y", "type": "quantitative", "scale": {"domain": [0.35, 0.65], "nice": false, "zero": false}, "axis": {"orient": "left", "values": [0.35, 0.4, 0.45, 0.5, 0.55, 0.6, 0.65], "format": ".2f", "title": "fσ₈(z)"}},
                "detail": {"field": "c"}, "order": {"field": "o", "type": "quantitative"}}},
  {"transform": [{"filter": "datum.k=='rule'"}], "mark": {"type": "rule", "stroke": "#000000", "strokeWidth": 3},
   "encoding": {"y2": {"field": "y2"}}},
  {"transform": [{"filter": "datum.k=='oL'"}], "mark": {"type": "line", "interpolate": "cardinal-closed", "fill": "#fdac60", "fillOpacity": 0.65, "stroke": "#d5381c", "strokeWidth": 2.5},
   "encoding": {"x": {"field": "x", "type": "quantitative", "scale": {"domain": [0.34, 0.5], "nice": false, "zero": false}, "axis": {"orient": "top", "values": [0.35, 0.4, 0.45, 0.5], "labels": false, "title": null}},
                "y": {"field": "y", "type": "quantitative", "scale": {"domain": [0.35, 0.65], "nice": false, "zero": false}, "axis": {"orient": "right", "values": [0.35, 0.4, 0.45, 0.5, 0.55, 0.6, 0.65], "labels": false, "title": null}},
                "detail": {"field": "c"}, "order": {"field": "o", "type": "quantitative"}}},
  {"transform": [{"filter": "datum.k=='oD'"}], "mark": {"type": "line", "interpolate": "cardinal-closed", "fill": "#f26814", "fillOpacity": 0.65, "stroke": "#d5381c", "strokeWidth": 2.5},
   "encoding": {"detail": {"field": "c"}, "order": {"field": "o", "type": "quantitative"}}},
  {"transform": [{"filter": "datum.k=='bL'"}], "mark": {"type": "line", "interpolate": "cardinal-closed", "fill": "#75c2f0", "fillOpacity": 0.65, "stroke": "#1667d6", "strokeWidth": 2},
   "encoding": {"detail": {"field": "c"}, "order": {"field": "o", "type": "quantitative"}}},
  {"transform": [{"filter": "datum.k=='bD'"}], "mark": {"type": "line", "interpolate": "cardinal-closed", "fill": "#084fae", "fillOpacity": 0.7, "stroke": "#1667d6", "strokeWidth": 2},
   "encoding": {"detail": {"field": "c"}, "order": {"field": "o", "type": "quantitative"}}},
  {"transform": [{"filter": "datum.k=='rot'"}], "mark": {"type": "text", "font": "Liberation Serif", "fontSize": 19, "angle": 270, "align": "left", "baseline": "middle", "color": "#444444"},
   "encoding": {"text": {"field": "t"}}},
  {"transform": [{"filter": "datum.k=='hb'"}], "mark": {"type": "text", "font": "Lato", "fontSize": 52, "align": "center", "baseline": "alphabetic", "color": "#1b9af1"},
   "encoding": {"text": {"field": "t"}}},
  {"transform": [{"filter": "datum.k=='ho'"}], "mark": {"type": "text", "font": "Lato", "fontSize": 52, "align": "center", "baseline": "alphabetic", "color": "#eaa23a"},
   "encoding": {"text": {"field": "t"}}},
  {"transform": [{"filter": "datum.k=='row'"}], "mark": {"type": "text", "font": "Lato", "fontSize": 52, "align": "left", "baseline": "alphabetic", "color": "#000000"},
   "encoding": {"text": {"field": "t"}}}
 ]
},
{
 "width": 320, "height": 320, "data": {"name": "p21"},
 "encoding": {"x": {"field": "x", "type": "quantitative", "scale": {"domain": [12, 13.5], "nice": false, "zero": false}, "axis": null},
              "y": {"field": "y", "type": "quantitative", "scale": {"domain": [0.5, 0.7], "nice": false, "zero": false}, "axis": null}},
 "layer": [
  {"transform": [{"filter": "datum.k=='g'"}], "mark": {"type": "line", "interpolate": "cardinal-closed", "stroke": "#5a9e1a", "strokeWidth": 2.5},
   "encoding": {"x": {"field": "x", "type": "quantitative", "scale": {"domain": [12, 13.5], "nice": false, "zero": false}, "axis": {"orient": "bottom", "values": [12, 12.5, 13, 13.5], "format": ".1f", "title": "D_V(z)/r_d"}},
                "y": {"field": "y", "type": "quantitative", "scale": {"domain": [0.5, 0.7], "nice": false, "zero": false}, "axis": {"orient": "left", "values": [0.5, 0.55, 0.6, 0.65, 0.7], "format": ".2f", "title": "F_AP(z)"}},
                "detail": {"field": "c"}, "order": {"field": "o", "type": "quantitative"}}},
  {"transform": [{"filter": "datum.k=='k'"}], "mark": {"type": "line", "interpolate": "cardinal-closed", "stroke": "#111111", "strokeWidth": 2.5},
   "encoding": {"detail": {"field": "c"}, "order": {"field": "o", "type": "quantitative"}}},
  {"transform": [{"filter": "datum.k=='oL'"}], "mark": {"type": "line", "interpolate": "cardinal-closed", "fill": "#fdac60", "fillOpacity": 0.65, "stroke": "#d5381c", "strokeWidth": 2.5},
   "encoding": {"x": {"field": "x", "type": "quantitative", "scale": {"domain": [12, 13.5], "nice": false, "zero": false}, "axis": {"orient": "top", "values": [12, 12.5, 13, 13.5], "labels": false, "title": null}},
                "y": {"field": "y", "type": "quantitative", "scale": {"domain": [0.5, 0.7], "nice": false, "zero": false}, "axis": {"orient": "right", "values": [0.5, 0.55, 0.6, 0.65, 0.7], "labels": false, "title": null}},
                "detail": {"field": "c"}, "order": {"field": "o", "type": "quantitative"}}},
  {"transform": [{"filter": "datum.k=='oD'"}], "mark": {"type": "line", "interpolate": "cardinal-closed", "fill": "#f26814", "fillOpacity": 0.65, "stroke": "#d5381c", "strokeWidth": 2.5},
   "encoding": {"detail": {"field": "c"}, "order": {"field": "o", "type": "quantitative"}}},
  {"transform": [{"filter": "datum.k=='bl'"}], "mark": {"type": "line", "stroke": "#1667d6", "strokeWidth": 3.5},
   "encoding": {"order": {"field": "o", "type": "quantitative"}}},
  {"transform": [{"filter": "datum.k=='lr'"}], "mark": {"type": "rule", "strokeWidth": 3},
   "encoding": {"x2": {"field": "x2"}, "color": {"field": "s", "type": "nominal", "scale": {"domain": ["Full-shape pre-rec.", "BAO-only post-rec.", "BAO+FS", "Planck ΛCDM"], "range": ["#5a9e1a", "#111111", "#d5381c", "#1667d6"]}, "legend": null}}},
  {"transform": [{"filter": "datum.k=='lt'"}], "mark": {"type": "text", "font": "Liberation Serif", "fontSize": 22, "align": "left", "baseline": "middle", "color": "#111111"},
   "encoding": {"text": {"field": "t"}}}
 ]
},
{
 "width": 320, "height": 320, "data": {"name": "p22"},
 "encoding": {"x": {"field": "x", "type": "quantitative", "scale": {"domain": [12, 13.5], "nice": false, "zero": false}, "axis": null},
              "y": {"field": "y", "type": "quantitative", "scale": {"domain": [0.3, 0.6], "nice": false, "zero": false}, "axis": null}},
 "layer": [
  {"transform": [{"filter": "datum.k=='g'"}], "mark": {"type": "line", "interpolate": "cardinal-closed", "stroke": "#5a9e1a", "strokeWidth": 2.5},
   "encoding": {"x": {"field": "x", "type": "quantitative", "scale": {"domain": [12, 13.5], "nice": false, "zero": false}, "axis": {"orient": "bottom", "values": [12, 12.5, 13, 13.5], "format": ".1f", "title": "D_V(z)/r_d"}},
                "y": {"field": "y", "type": "quantitative", "scale": {"domain": [0.3, 0.6], "nice": false, "zero": false}, "axis": {"orient": "left", "values": [0.3, 0.35, 0.4, 0.45, 0.5, 0.55, 0.6], "format": ".2f", "title": "fσ₈(z)"}},
                "detail": {"field": "c"}, "order": {"field": "o", "type": "quantitative"}}},
  {"transform": [{"filter": "datum.k=='rule'"}], "mark": {"type": "rule", "stroke": "#000000", "strokeWidth": 3},
   "encoding": {"y2": {"field": "y2"}}},
  {"transform": [{"filter": "datum.k=='oL'"}], "mark": {"type": "line", "interpolate": "cardinal-closed", "fill": "#fdac60", "fillOpacity": 0.65, "stroke": "#d5381c", "strokeWidth": 2.5},
   "encoding": {"x": {"field": "x", "type": "quantitative", "scale": {"domain": [12, 13.5], "nice": false, "zero": false}, "axis": {"orient": "top", "values": [12, 12.5, 13, 13.5], "labels": false, "title": null}},
                "y": {"field": "y", "type": "quantitative", "scale": {"domain": [0.3, 0.6], "nice": false, "zero": false}, "axis": {"orient": "right", "values": [0.3, 0.35, 0.4, 0.45, 0.5, 0.55, 0.6], "labels": false, "title": null}},
                "detail": {"field": "c"}, "order": {"field": "o", "type": "quantitative"}}},
  {"transform": [{"filter": "datum.k=='oD'"}], "mark": {"type": "line", "interpolate": "cardinal-closed", "fill": "#f26814", "fillOpacity": 0.65, "stroke": "#d5381c", "strokeWidth": 2.5},
   "encoding": {"detail": {"field": "c"}, "order": {"field": "o", "type": "quantitative"}}},
  {"transform": [{"filter": "datum.k=='bL'"}], "mark": {"type": "line", "interpolate": "cardinal-closed", "fill": "#75c2f0", "fillOpacity": 0.65, "stroke": "#1667d6", "strokeWidth": 2},
   "encoding": {"detail": {"field": "c"}, "order": {"field": "o", "type": "quantitative"}}},
  {"transform": [{"filter": "datum.k=='bD'"}], "mark": {"type": "line", "interpolate": "cardinal-closed", "fill": "#084fae", "fillOpacity": 0.7, "stroke": "#1667d6", "strokeWidth": 2},
   "encoding": {"detail": {"field": "c"}, "order": {"field": "o", "type": "quantitative"}}}
 ]
},
{
 "width": 320, "height": 320, "data": {"name": "p23"},
 "encoding": {"x": {"field": "x", "type": "quantitative", "scale": {"domain": [0.5, 0.7], "nice": false, "zero": false}, "axis": null},
              "y": {"field": "y", "type": "quantitative", "scale": {"domain": [0.3, 0.6], "nice": false, "zero": false}, "axis": null}},
 "layer": [
  {"transform": [{"filter": "datum.k=='g'"}], "mark": {"type": "line", "interpolate": "cardinal-closed", "stroke": "#5a9e1a", "strokeWidth": 2.5},
   "encoding": {"x": {"field": "x", "type": "quantitative", "scale": {"domain": [0.5, 0.7], "nice": false, "zero": false}, "axis": {"orient": "bottom", "values": [0.5, 0.55, 0.6, 0.65, 0.7], "format": ".2f", "title": "F_AP(z)"}},
                "y": {"field": "y", "type": "quantitative", "scale": {"domain": [0.3, 0.6], "nice": false, "zero": false}, "axis": {"orient": "left", "values": [0.3, 0.35, 0.4, 0.45, 0.5, 0.55, 0.6], "format": ".2f", "title": "fσ₈(z)"}},
                "detail": {"field": "c"}, "order": {"field": "o", "type": "quantitative"}}},
  {"transform": [{"filter": "datum.k=='rule'"}], "mark": {"type": "rule", "stroke": "#000000", "strokeWidth": 3},
   "encoding": {"y2": {"field": "y2"}}},
  {"transform": [{"filter": "datum.k=='oL'"}], "mark": {"type": "line", "interpolate": "cardinal-closed", "fill": "#fdac60", "fillOpacity": 0.65, "stroke": "#d5381c", "strokeWidth": 2.5},
   "encoding": {"x": {"field": "x", "type": "quantitative", "scale": {"domain": [0.5, 0.7], "nice": false, "zero": false}, "axis": {"orient": "top", "values": [0.5, 0.55, 0.6, 0.65, 0.7], "labels": false, "title": null}},
                "y": {"field": "y", "type": "quantitative", "scale": {"domain": [0.3, 0.6], "nice": false, "zero": false}, "axis": {"orient": "right", "values": [0.3, 0.35, 0.4, 0.45, 0.5, 0.55, 0.6], "labels": false, "title": null}},
                "detail": {"field": "c"}, "order": {"field": "o", "type": "quantitative"}}},
  {"transform": [{"filter": "datum.k=='oD'"}], "mark": {"type": "line", "interpolate": "cardinal-closed", "fill": "#f26814", "fillOpacity": 0.65, "stroke": "#d5381c", "strokeWidth": 2.5},
   "encoding": {"detail": {"field": "c"}, "order": {"field": "o", "type": "quantitative"}}},
  {"transform": [{"filter": "datum.k=='bL'"}], "mark": {"type": "line", "interpolate": "cardinal-closed", "fill": "#75c2f0", "fillOpacity": 0.65, "stroke": "#1667d6", "strokeWidth": 2},
   "encoding": {"detail": {"field": "c"}, "order": {"field": "o", "type": "quantitative"}}},
  {"transform": [{"filter": "datum.k=='bD'"}], "mark": {"type": "line", "interpolate": "cardinal-closed", "fill": "#084fae", "fillOpacity": 0.7, "stroke": "#1667d6", "strokeWidth": 2},
   "encoding": {"detail": {"field": "c"}, "order": {"field": "o", "type": "quantitative"}}},
  {"transform": [{"filter": "datum.k=='rot'"}], "mark": {"type": "text", "font": "Liberation Serif", "fontSize": 19, "angle": 270, "align": "left", "baseline": "middle", "color": "#444444"},
   "encoding": {"text": {"field": "t"}}},
  {"transform": [{"filter": "datum.k=='row'"}], "mark": {"type": "text", "font": "Lato", "fontSize": 52, "align": "left", "baseline": "alphabetic", "color": "#000000"},
   "encoding": {"text": {"field": "t"}}}
 ]
},
{
 "width": 320, "height": 320, "data": {"name": "p31"},
 "encoding": {"x": {"field": "x", "type": "quantitative", "scale": {"domain": [13.5, 15.5], "nice": false, "zero": false}, "axis": null},
              "y": {"field": "y", "type": "quantitative", "scale": {"domain": [0.625, 0.9], "nice": false, "zero": false}, "axis": null}},
 "layer": [
  {"transform": [{"filter": "datum.k=='g'"}], "mark": {"type": "line", "interpolate": "cardinal-closed", "stroke": "#5a9e1a", "strokeWidth": 2.5},
   "encoding": {"x": {"field": "x", "type": "quantitative", "scale": {"domain": [13.5, 15.5], "nice": false, "zero": false}, "axis": {"orient": "bottom", "values": [13.5, 14, 14.5, 15, 15.5], "format": ".1f", "title": "D_V(z)/r_d"}},
                "y": {"field": "y", "type": "quantitative", "scale": {"domain": [0.625, 0.9], "nice": false, "zero": false}, "axis": {"orient": "left", "values": [0.65, 0.7, 0.75, 0.8, 0.85, 0.9], "format": ".2f", "title": "F_AP(z)"}},
                "detail": {"field": "c"}, "order": {"field": "o", "type": "quantitative"}}},
  {"transform": [{"filter": "datum.k=='k'"}], "mark": {"type": "line", "interpolate": "cardinal-closed", "stroke": "#111111", "strokeWidth": 2.5},
   "encoding": {"detail": {"field": "c"}, "order": {"field": "o", "type": "quantitative"}}},
  {"transform": [{"filter": "datum.k=='oL'"}], "mark": {"type": "line", "interpolate": "cardinal-closed", "fill": "#fdac60", "fillOpacity": 0.65, "stroke": "#d5381c", "strokeWidth": 2.5},
   "encoding": {"x": {"field": "x", "type": "quantitative", "scale": {"domain": [13.5, 15.5], "nice": false, "zero": false}, "axis": {"orient": "top", "values": [13.5, 14, 14.5, 15, 15.5], "labels": false, "title": null}},
                "y": {"field": "y", "type": "quantitative", "scale": {"domain": [0.625, 0.9], "nice": false, "zero": false}, "axis": {"orient": "right", "values": [0.65, 0.7, 0.75, 0.8, 0.85, 0.9], "labels": false, "title": null}},
                "detail": {"field": "c"}, "order": {"field": "o", "type": "quantitative"}}},
  {"transform": [{"filter": "datum.k=='oD'"}], "mark": {"type": "line", "interpolate": "cardinal-closed", "fill": "#f26814", "fillOpacity": 0.65, "stroke": "#d5381c", "strokeWidth": 2.5},
   "encoding": {"detail": {"field": "c"}, "order": {"field": "o", "type": "quantitative"}}},
  {"transform": [{"filter": "datum.k=='bl'"}], "mark": {"type": "line", "stroke": "#1667d6", "strokeWidth": 3.5},
   "encoding": {"order": {"field": "o", "type": "quantitative"}}},
  {"transform": [{"filter": "datum.k=='lr'"}], "mark": {"type": "rule", "strokeWidth": 3},
   "encoding": {"x2": {"field": "x2"}, "color": {"field": "s", "type": "nominal", "scale": {"domain": ["Full-shape pre-rec.", "BAO-only post-rec.", "BAO+FS", "Planck ΛCDM"], "range": ["#5a9e1a", "#111111", "#d5381c", "#1667d6"]}, "legend": null}}},
  {"transform": [{"filter": "datum.k=='lt'"}], "mark": {"type": "text", "font": "Liberation Serif", "fontSize": 22, "align": "left", "baseline": "middle", "color": "#111111"},
   "encoding": {"text": {"field": "t"}}}
 ]
},
{
 "width": 320, "height": 320, "data": {"name": "p32"},
 "encoding": {"x": {"field": "x", "type": "quantitative", "scale": {"domain": [13.5, 15.5], "nice": false, "zero": false}, "axis": null},
              "y": {"field": "y", "type": "quantitative", "scale": {"domain": [0.3, 0.55], "nice": false, "zero": false}, "axis": null}},
 "layer": [
  {"transform": [{"filter": "datum.k=='g'"}], "mark": {"type": "line", "interpolate": "cardinal-closed", "stroke": "#5a9e1a", "strokeWidth": 2.5},
   "encoding": {"x": {"field": "x", "type": "quantitative", "scale": {"domain": [13.5, 15.5], "nice": false, "zero": false}, "axis": {"orient": "bottom", "values": [13.5, 14, 14.5, 15, 15.5], "format": ".1f", "title": "D_V(z)/r_d"}},
                "y": {"field": "y", "type": "quantitative", "scale": {"domain": [0.3, 0.55], "nice": false, "zero": false}, "axis": {"orient": "left", "values": [0.3, 0.35, 0.4, 0.45, 0.5, 0.55], "format": ".2f", "title": "fσ₈(z)"}},
                "detail": {"field": "c"}, "order": {"field": "o", "type": "quantitative"}}},
  {"transform": [{"filter": "datum.k=='rule'"}], "mark": {"type": "rule", "stroke": "#000000", "strokeWidth": 3},
   "encoding": {"y2": {"field": "y2"}}},
  {"transform": [{"filter": "datum.k=='oL'"}], "mark": {"type": "line", "interpolate": "cardinal-closed", "fill": "#fdac60", "fillOpacity": 0.65, "stroke": "#d5381c", "strokeWidth": 2.5},
   "encoding": {"x": {"field": "x", "type": "quantitative", "scale": {"domain": [13.5, 15.5], "nice": false, "zero": false}, "axis": {"orient": "top", "values": [13.5, 14, 14.5, 15, 15.5], "labels": false, "title": null}},
                "y": {"field": "y", "type": "quantitative", "scale": {"domain": [0.3, 0.55], "nice": false, "zero": false}, "axis": {"orient": "right", "values": [0.3, 0.35, 0.4, 0.45, 0.5, 0.55], "labels": false, "title": null}},
                "detail": {"field": "c"}, "order": {"field": "o", "type": "quantitative"}}},
  {"transform": [{"filter": "datum.k=='oD'"}], "mark": {"type": "line", "interpolate": "cardinal-closed", "fill": "#f26814", "fillOpacity": 0.65, "stroke": "#d5381c", "strokeWidth": 2.5},
   "encoding": {"detail": {"field": "c"}, "order": {"field": "o", "type": "quantitative"}}},
  {"transform": [{"filter": "datum.k=='bL'"}], "mark": {"type": "line", "interpolate": "cardinal-closed", "fill": "#75c2f0", "fillOpacity": 0.65, "stroke": "#1667d6", "strokeWidth": 2},
   "encoding": {"detail": {"field": "c"}, "order": {"field": "o", "type": "quantitative"}}},
  {"transform": [{"filter": "datum.k=='bD'"}], "mark": {"type": "line", "interpolate": "cardinal-closed", "fill": "#084fae", "fillOpacity": 0.7, "stroke": "#1667d6", "strokeWidth": 2},
   "encoding": {"detail": {"field": "c"}, "order": {"field": "o", "type": "quantitative"}}}
 ]
},
{
 "width": 320, "height": 320, "data": {"name": "p33"},
 "encoding": {"x": {"field": "x", "type": "quantitative", "scale": {"domain": [0.625, 0.9], "nice": false, "zero": false}, "axis": null},
              "y": {"field": "y", "type": "quantitative", "scale": {"domain": [0.3, 0.55], "nice": false, "zero": false}, "axis": null}},
 "layer": [
  {"transform": [{"filter": "datum.k=='g'"}], "mark": {"type": "line", "interpolate": "cardinal-closed", "stroke": "#5a9e1a", "strokeWidth": 2.5},
   "encoding": {"x": {"field": "x", "type": "quantitative", "scale": {"domain": [0.625, 0.9], "nice": false, "zero": false}, "axis": {"orient": "bottom", "values": [0.65, 0.7, 0.75, 0.8, 0.85, 0.9], "format": ".2f", "title": "F_AP(z)"}},
                "y": {"field": "y", "type": "quantitative", "scale": {"domain": [0.3, 0.55], "nice": false, "zero": false}, "axis": {"orient": "left", "values": [0.3, 0.35, 0.4, 0.45, 0.5, 0.55], "format": ".2f", "title": "fσ₈(z)"}},
                "detail": {"field": "c"}, "order": {"field": "o", "type": "quantitative"}}},
  {"transform": [{"filter": "datum.k=='rule'"}], "mark": {"type": "rule", "stroke": "#000000", "strokeWidth": 3},
   "encoding": {"y2": {"field": "y2"}}},
  {"transform": [{"filter": "datum.k=='oL'"}], "mark": {"type": "line", "interpolate": "cardinal-closed", "fill": "#fdac60", "fillOpacity": 0.65, "stroke": "#d5381c", "strokeWidth": 2.5},
   "encoding": {"x": {"field": "x", "type": "quantitative", "scale": {"domain": [0.625, 0.9], "nice": false, "zero": false}, "axis": {"orient": "top", "values": [0.65, 0.7, 0.75, 0.8, 0.85, 0.9], "labels": false, "title": null}},
                "y": {"field": "y", "type": "quantitative", "scale": {"domain": [0.3, 0.55], "nice": false, "zero": false}, "axis": {"orient": "right", "values": [0.3, 0.35, 0.4, 0.45, 0.5, 0.55], "labels": false, "title": null}},
                "detail": {"field": "c"}, "order": {"field": "o", "type": "quantitative"}}},
  {"transform": [{"filter": "datum.k=='oD'"}], "mark": {"type": "line", "interpolate": "cardinal-closed", "fill": "#f26814", "fillOpacity": 0.65, "stroke": "#d5381c", "strokeWidth": 2.5},
   "encoding": {"detail": {"field": "c"}, "order": {"field": "o", "type": "quantitative"}}},
  {"transform": [{"filter": "datum.k=='bL'"}], "mark": {"type": "line", "interpolate": "cardinal-closed", "fill": "#75c2f0", "fillOpacity": 0.65, "stroke": "#1667d6", "strokeWidth": 2},
   "encoding": {"detail": {"field": "c"}, "order": {"field": "o", "type": "quantitative"}}},
  {"transform": [{"filter": "datum.k=='bD'"}], "mark": {"type": "line", "interpolate": "cardinal-closed", "fill": "#084fae", "fillOpacity": 0.7, "stroke": "#1667d6", "strokeWidth": 2},
   "encoding": {"detail": {"field": "c"}, "order": {"field": "o", "type": "quantitative"}}},
  {"transform": [{"filter": "datum.k=='rot'"}], "mark": {"type": "text", "font": "Liberation Serif", "fontSize": 19, "angle": 270, "align": "left", "baseline": "middle", "color": "#444444"},
   "encoding": {"text": {"field": "t"}}},
  {"transform": [{"filter": "datum.k=='row'"}], "mark": {"type": "text", "font": "Lato", "fontSize": 52, "align": "left", "baseline": "alphabetic", "color": "#000000"},
   "encoding": {"text": {"field": "t"}}}
 ]
}
]
}
